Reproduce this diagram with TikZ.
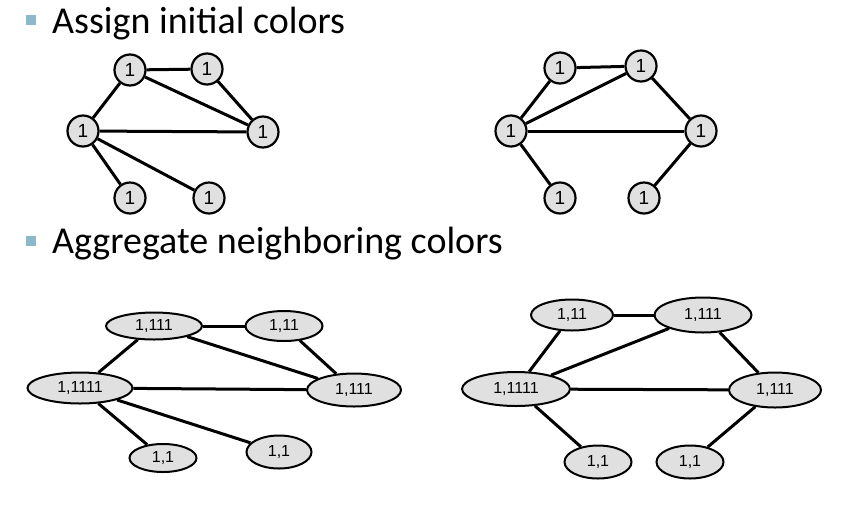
\documentclass[tikz,border=0pt]{standalone}
\usepackage{fontspec}
\setmainfont{Liberation Sans}
\newfontfamily\titlefont{Carlito}
\usetikzlibrary{shapes.geometric}
\definecolor{nodegray}{RGB}{224,224,224}
\definecolor{bulletblue}{RGB}{140,184,204}

\tikzset{
  vtx/.style={circle, draw=black, fill=nodegray, line width=2.2pt, minimum size=31pt, inner sep=0pt, font=\fontsize{19}{19}\selectfont},
  blob/.style={ellipse, draw=black, fill=nodegray, line width=2pt, inner sep=0pt, font=\fontsize{16}{16}\selectfont},
  edge/.style={line width=3pt},
  headline/.style={anchor=base west, inner sep=0pt, font=\titlefont\fontsize{38}{38}\selectfont},
  bullet/.style={fill=bulletblue, draw=none, minimum size=10pt, inner sep=0pt}
}

\begin{document}
\begin{tikzpicture}[x=1pt, y=-1pt]
        \useasboundingbox (0,0) rectangle (858,504);

        % headings
        \node[bullet] (b1) at (31,20) {};
        \node[headline] (t1) at (52,33) {Assign initial colors};
        \node[bullet] (b2) at (31,241) {};
        \node[headline] (t2) at (52,253) {Aggregate neighboring colors};

        % initial colors, left
        \node[vtx] (la) at (130,70) {1};
        \node[vtx] (lb) at (207,69) {1};
        \node[vtx] (lc) at (83,131) {1};
        \node[vtx] (ld) at (263,132) {1};
        \node[vtx] (le) at (130,198) {1};
        \node[vtx] (lf) at (209,198) {1};

        \draw[edge] (la) to (lb);
        \draw[edge] (la) to (lc);
        \draw[edge] (la) to (ld);
        \draw[edge] (lb) to (ld);
        \draw[edge] (lc) to (ld);
        \draw[edge] (lc) to (le);
        \draw[edge] (lc) to (lf);

        % initial colors, right
        \node[vtx] (ra) at (560,68) {1};
        \node[vtx] (rb) at (641,66) {1};
        \node[vtx] (rc) at (511,131) {1};
        \node[vtx] (rd) at (701,131) {1};
        \node[vtx] (re) at (560,198) {1};
        \node[vtx] (rf) at (644,198) {1};

        \draw[edge] (ra) to (rb);
        \draw[edge] (ra) to (rc);
        \draw[edge] (rb) to (rc);
        \draw[edge] (rb) to (rd);
        \draw[edge] (rc) to (rd);
        \draw[edge] (rc) to (re);
        \draw[edge] (rd) to (rf);

        % aggregated colors, left
        \node[blob, minimum width=96pt, minimum height=27pt] (xa) at (154,326) {1,111};
        \node[blob, minimum width=77pt, minimum height=30pt] (xb) at (284,326) {1,11};
        \node[blob, minimum width=105pt, minimum height=31pt] (xc) at (80,388) {1,1111};
        \node[blob, minimum width=94pt, minimum height=33pt] (xd) at (354,390) {1,111};
        \node[blob, minimum width=67pt, minimum height=28pt] (xe) at (163,458) {1,1};
        \node[blob, minimum width=65pt, minimum height=33pt] (xf) at (279,452) {1,1};

        \draw[edge] (xa) to (xb);
        \draw[edge] (xa) to (xc);
        \draw[edge] (xa) to (xd);
        \draw[edge] (xb) to (xd);
        \draw[edge] (xc) to (xd);
        \draw[edge] (xc) to (xe);
        \draw[edge] (xc) to (xf);

        % aggregated colors, right
        \node[blob, minimum width=82pt, minimum height=31pt] (ya) at (572,315) {1,11};
        \node[blob, minimum width=97pt, minimum height=35pt] (yb) at (703,315) {1,111};
        \node[blob, minimum width=108pt, minimum height=34pt] (yc) at (516,389) {1,1111};
        \node[blob, minimum width=92pt, minimum height=35pt] (yd) at (775,390) {1,111};
        \node[blob, minimum width=67pt, minimum height=33pt] (ye) at (598,462) {1,1};
        \node[blob, minimum width=67pt, minimum height=33pt] (yf) at (690,462) {1,1};

        \draw[edge] (ya) to (yb);
        \draw[edge] (ya) to (yc);
        \draw[edge] (yb) to (yc);
        \draw[edge] (yb) to (yd);
        \draw[edge] (yc) to (yd);
        \draw[edge] (yc) to (ye);
        \draw[edge] (yd) to (yf);
\end{tikzpicture}
\end{document}
